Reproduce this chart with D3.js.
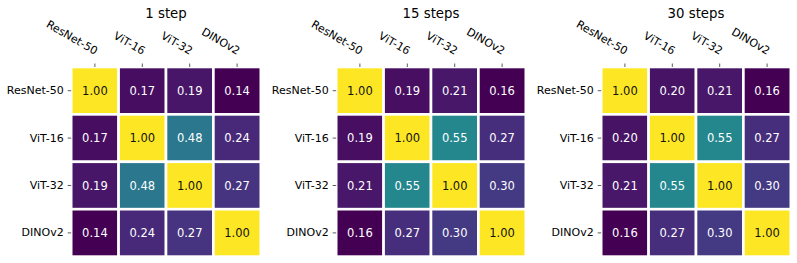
<!DOCTYPE html>
<html>
<head>
<meta charset="utf-8">
<script src="https://cdn.jsdelivr.net/npm/d3@7"></script>
<style>
  body { margin: 0; background: #fff; }
  svg { font-family: "DejaVu Sans", sans-serif; }
</style>
</head>
<body>
<div id="chart"></div>
<script>
// models compared in each similarity matrix
var models = ["ResNet-50", "ViT-16", "ViT-32", "DINOv2"];

// panel titles
var titles = ["1 step", "15 steps", "30 steps"];

// similarity matrices, one per panel (row-major)
var step1 = [
    [1.00, 0.17, 0.19, 0.14],
    [0.17, 1.00, 0.48, 0.24],
    [0.19, 0.48, 1.00, 0.27],
    [0.14, 0.24, 0.27, 1.00]
];
var step15 = [
    [1.00, 0.19, 0.21, 0.16],
    [0.19, 1.00, 0.55, 0.27],
    [0.21, 0.55, 1.00, 0.30],
    [0.16, 0.27, 0.30, 1.00]
];
var step30 = [
    [1.00, 0.20, 0.21, 0.16],
    [0.20, 1.00, 0.55, 0.27],
    [0.21, 0.55, 1.00, 0.30],
    [0.16, 0.27, 0.30, 1.00]
];
var matrices = [step1, step15, step30];

var width = 797,
    height = 263,
    panelStep = 265,
    grid = { left: 71.2, top: 67, size: 189.6 };

var svg = d3.select("#chart").append("svg")
    .attr("width", width)
    .attr("height", height);

var x = d3.scaleBand().domain(models).range([0, grid.size]);
var y = d3.scaleBand().domain(models).range([0, grid.size]);

function drawPanel(matrix, title, index) {
    var flat = [];
    matrix.forEach(function (row, i) {
        row.forEach(function (v, j) {
            flat.push({ row: models[i], col: models[j], value: v });
        });
    });

    // each panel gets its own colour range, like seaborn's default
    var color = d3.scaleSequential(d3.interpolateViridis)
        .domain(d3.extent(flat, function (d) { return d.value; }));

    var g = svg.append("g")
        .attr("transform", "translate(" + (index * panelStep + grid.left) + "," + grid.top + ")");

    g.append("text")
        .attr("x", grid.size / 2)
        .attr("y", -49.5)
        .attr("text-anchor", "middle")
        .style("font-size", "13.3px")
        .text(title);

    g.selectAll("rect")
        .data(flat)
        .enter().append("rect")
        .attr("x", function (d) { return x(d.col); })
        .attr("y", function (d) { return y(d.row); })
        .attr("width", x.bandwidth())
        .attr("height", y.bandwidth())
        .attr("fill", function (d) { return color(d.value); })
        .attr("stroke", "#fff")
        .attr("stroke-width", 2.6);

    g.selectAll("text.val")
        .data(flat)
        .enter().append("text")
        .attr("class", "val")
        .attr("x", function (d) { return x(d.col) + x.bandwidth() / 2; })
        .attr("y", function (d) { return y(d.row) + y.bandwidth() / 2; })
        .attr("dy", "0.36em")
        .attr("text-anchor", "middle")
        .style("font-size", "11.5px")
        .attr("fill", function (d) {
            var c = d3.hsl(color(d.value));
            return c.l > 0.55 ? "#111" : "#fff";
        })
        .text(function (d) { return d3.format(".2f")(d.value); });

    // top axis with slanted labels
    var top = g.append("g")
        .call(d3.axisTop(x).tickSize(3.5).tickSizeOuter(0));
    top.select(".domain").remove();
    top.selectAll(".tick line").attr("stroke", "#333").attr("stroke-width", 0.8);
    top.selectAll(".tick text")
        .attr("x", 0)
        .attr("y", 0)
        .attr("dy", 0)
        .attr("text-anchor", "end")
        .attr("transform", "translate(0,-12) rotate(30)")
        .attr("fill", "#000")
        .style("font-size", "11px")
        .style("font-family", "DejaVu Sans");

    var left = g.append("g")
        .call(d3.axisLeft(y).tickSize(3.5).tickPadding(4).tickSizeOuter(0));
    left.select(".domain").remove();
    left.selectAll(".tick line").attr("stroke", "#333").attr("stroke-width", 0.8);
    left.selectAll(".tick text")
        .attr("fill", "#000")
        .style("font-size", "11px")
        .style("font-family", "DejaVu Sans");
}

matrices.forEach(function (m, i) {
    drawPanel(m, titles[i], i);
});
</script>
</body>
</html>
